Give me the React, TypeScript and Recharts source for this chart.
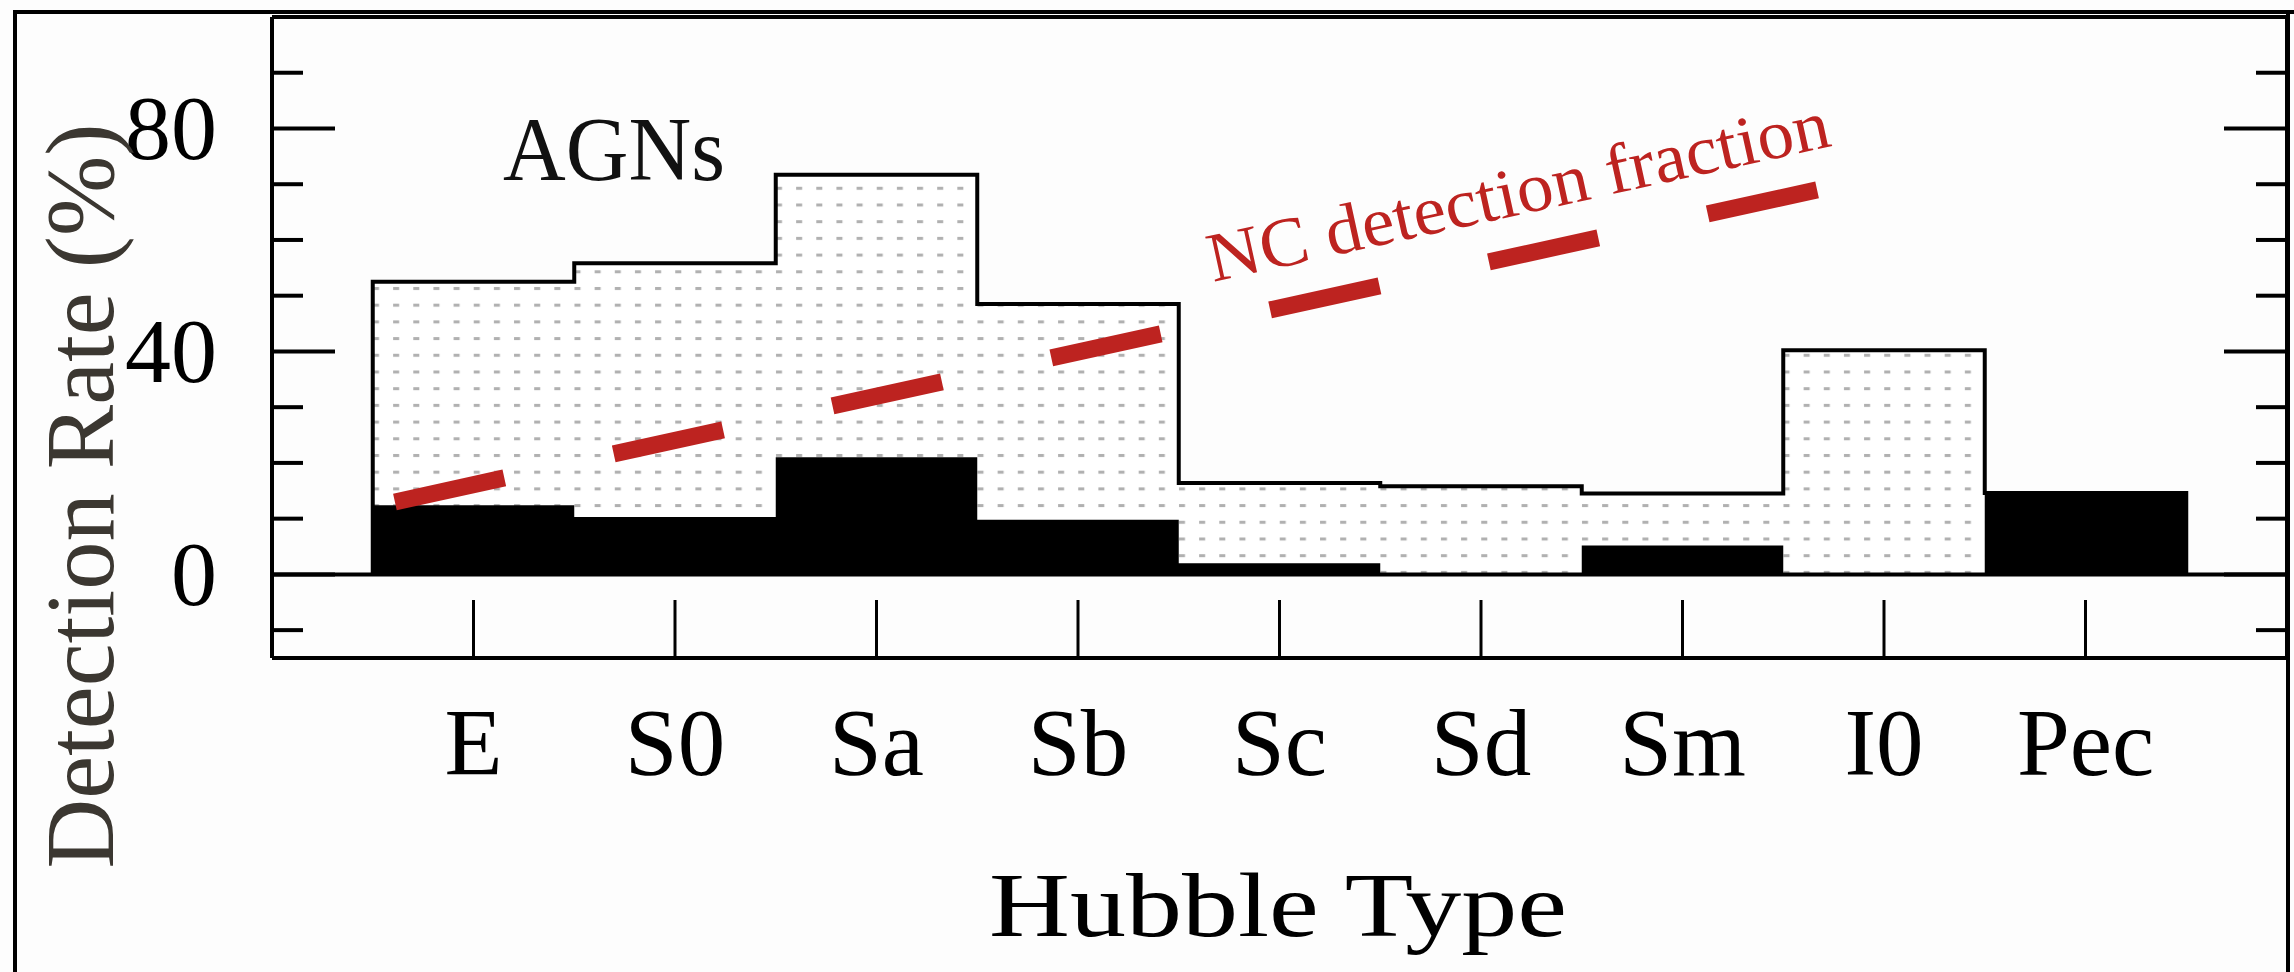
import { ComposedChart, Area, Line, XAxis, YAxis, ReferenceLine } from 'recharts'

// detection rates per Hubble type (%)
const hubbleTypes = ['E', 'S0', 'Sa', 'Sb', 'Sc', 'Sd', 'Sm', 'I0', 'Pec']
const totalRate = [52.5, 55.8, 71.7, 48.5, 16.4, 15.8, 14.5, 40.2, 14.6]
const agnRate = [12.4, 10.3, 21.0, 9.8, 2.0, 0, 5.2, 0, 14.6]

// NC detection fraction trend: end points in (type position, %)
const ncTrendX = [0.61, 7.67]
const ncTrendY = [13.0, 69.0]

const typeTicks = [1, 2, 3, 4, 5, 6, 7, 8, 9]
const majorTicks = [0, 40, 80]
const minorTicks = [-10, 10, 20, 30, 50, 60, 70, 90]

const W = 2294
const H = 972
const PLOT = { left: 272, top: 17, right: 2287, bottom: 658 }
const serif = '"Liberation Serif", "Times New Roman", serif'
const RED = '#bd2320'

// histogram bins are centred on integer positions 1..9
const histSteps = [
  ...hubbleTypes.map((_, i) => ({ x: i + 0.5, total: totalRate[i], agn: agnRate[i] })),
  { x: hubbleTypes.length + 0.5, total: totalRate[totalRate.length - 1], agn: agnRate[agnRate.length - 1] },
]

// closed step outline around the total histogram
const outline = [
  { x: 0.5, y: 0 },
  ...histSteps.map((d) => ({ x: d.x, y: d.total })),
  { x: hubbleTypes.length + 0.5, y: 0 },
]

const ncTrend = ncTrendX.map((x, i) => ({ x, y: ncTrendY[i] }))

const TypeTick = ({ x, y, payload }: any) => (
  <text x={x} y={y} textAnchor="middle" fontFamily={serif} fontSize={95} fill="#000">
    {hubbleTypes[payload.value - 1]}
  </text>
)

const RateTick = ({ x, y, payload }: any) => (
  <text x={x} y={y + 31} textAnchor="end" fontFamily={serif} fontSize={92} fill="#000">
    {payload.value}
  </text>
)

const NoTick = () => <g />

const yTickLine = { stroke: '#000', strokeWidth: 4 }
const xTickLine = { stroke: '#000', strokeWidth: 3 }
const frame = { stroke: '#000', strokeWidth: 4 }

// axes get a 1px band (a zero-sized axis is not drawn), two stacked on each side
export default function App() {
  return (
    <div
      style={{
        position: 'absolute',
        left: 0,
        top: 0,
        width: W,
        height: H,
        background: '#fdfdfd',
        overflow: 'hidden',
      }}
    >
      <svg width={0} height={0} style={{ position: 'absolute' }}>
        <defs>
          <pattern id="dotFill" patternUnits="userSpaceOnUse" x={372} y={286} width={20.15} height={16.7}>
            <rect width={20.15} height={16.7} fill="#ffffff" />
            <rect x={1} y={1} width={6} height={3} fill="#b0b0b0" />
          </pattern>
        </defs>
      </svg>

      <ComposedChart
        width={W}
        height={H}
        margin={{
          top: PLOT.top - 1,
          left: PLOT.left - 2,
          right: W - PLOT.right - 2,
          bottom: H - PLOT.bottom - 1,
        }}
      >
        <XAxis
          dataKey="x"
          type="number"
          domain={[0, 10]}
          allowDataOverflow
          ticks={typeTicks}
          interval={0}
          height={1}
          tickSize={-58}
          tickMargin={175}
          tick={TypeTick}
          tickLine={xTickLine}
          axisLine={frame}
        />
        <XAxis
          xAxisId="top"
          orientation="top"
          type="number"
          domain={[0, 10]}
          allowDataOverflow
          ticks={typeTicks}
          interval={0}
          height={1}
          tickSize={-58}
          tick={NoTick}
          tickLine={xTickLine}
          axisLine={frame}
        />
        <YAxis
          type="number"
          domain={[-15, 100]}
          allowDataOverflow
          ticks={majorTicks}
          interval={0}
          width={1}
          tickSize={-63}
          tickMargin={118}
          tick={RateTick}
          tickLine={yTickLine}
          axisLine={frame}
        />
        <YAxis
          yAxisId="minor"
          type="number"
          domain={[-15, 100]}
          allowDataOverflow
          ticks={minorTicks}
          interval={0}
          width={1}
          tickSize={-32}
          tick={NoTick}
          tickLine={yTickLine}
          axisLine={false}
        />
        <YAxis
          yAxisId="majorR"
          orientation="right"
          type="number"
          domain={[-15, 100]}
          allowDataOverflow
          ticks={majorTicks}
          interval={0}
          width={1}
          tickSize={-63}
          tick={NoTick}
          tickLine={yTickLine}
          axisLine={frame}
        />
        <YAxis
          yAxisId="minorR"
          orientation="right"
          type="number"
          domain={[-15, 100]}
          allowDataOverflow
          ticks={minorTicks}
          interval={0}
          width={1}
          tickSize={-32}
          tick={NoTick}
          tickLine={yTickLine}
          axisLine={false}
        />

        <Area
          data={histSteps}
          dataKey="total"
          type="stepAfter"
          baseValue={0}
          stroke="none"
          fill="url(#dotFill)"
          fillOpacity={1}
          isAnimationActive={false}
        />
        <Area
          data={histSteps}
          dataKey="agn"
          type="stepAfter"
          baseValue={0}
          stroke="none"
          fill="#000"
          fillOpacity={1}
          isAnimationActive={false}
        />
        <Line
          data={outline}
          dataKey="y"
          type="stepAfter"
          stroke="#000"
          strokeWidth={4}
          dot={false}
          activeDot={false}
          isAnimationActive={false}
        />
        <ReferenceLine y={0} stroke="#000" strokeWidth={4} />
        <Line
          data={ncTrend}
          dataKey="y"
          type="linear"
          stroke={RED}
          strokeWidth={17}
          strokeDasharray="112 112"
          strokeLinecap="butt"
          dot={false}
          activeDot={false}
          isAnimationActive={false}
        />
      </ComposedChart>

      <svg
        width={W}
        height={H}
        style={{ position: 'absolute', left: 0, top: 0, pointerEvents: 'none' }}
      >
        {/* outer figure border */}
        <line x1={15} y1={10} x2={15} y2={H} stroke="#000" strokeWidth={4} />
        <line x1={13} y1={12} x2={W} y2={12} stroke="#000" strokeWidth={4} />
        <line x1={2288} y1={10} x2={2288} y2={H} stroke="#000" strokeWidth={4} />

        <text x={503} y={180} fontFamily={serif} fontSize={90} fill="#111" textLength={222} lengthAdjust="spacingAndGlyphs">
          AGNs
        </text>
        <text
          transform="translate(1213,282) rotate(-12.4)"
          fontFamily={serif}
          fontSize={70}
          fill={RED}
          textLength={635}
          lengthAdjust="spacingAndGlyphs"
        >
          NC detection fraction
        </text>
        <text
          transform="translate(113,496) rotate(-90)"
          textAnchor="middle"
          fontFamily={serif}
          fontSize={97}
          fill="#3b3731"
          textLength={745}
          lengthAdjust="spacingAndGlyphs"
        >
          Detection Rate (%)
        </text>
        <text
          x={1278}
          y={936}
          textAnchor="middle"
          fontFamily={serif}
          fontSize={92}
          fill="#000"
          textLength={578}
          lengthAdjust="spacingAndGlyphs"
        >
          Hubble Type
        </text>
      </svg>
    </div>
  )
}
